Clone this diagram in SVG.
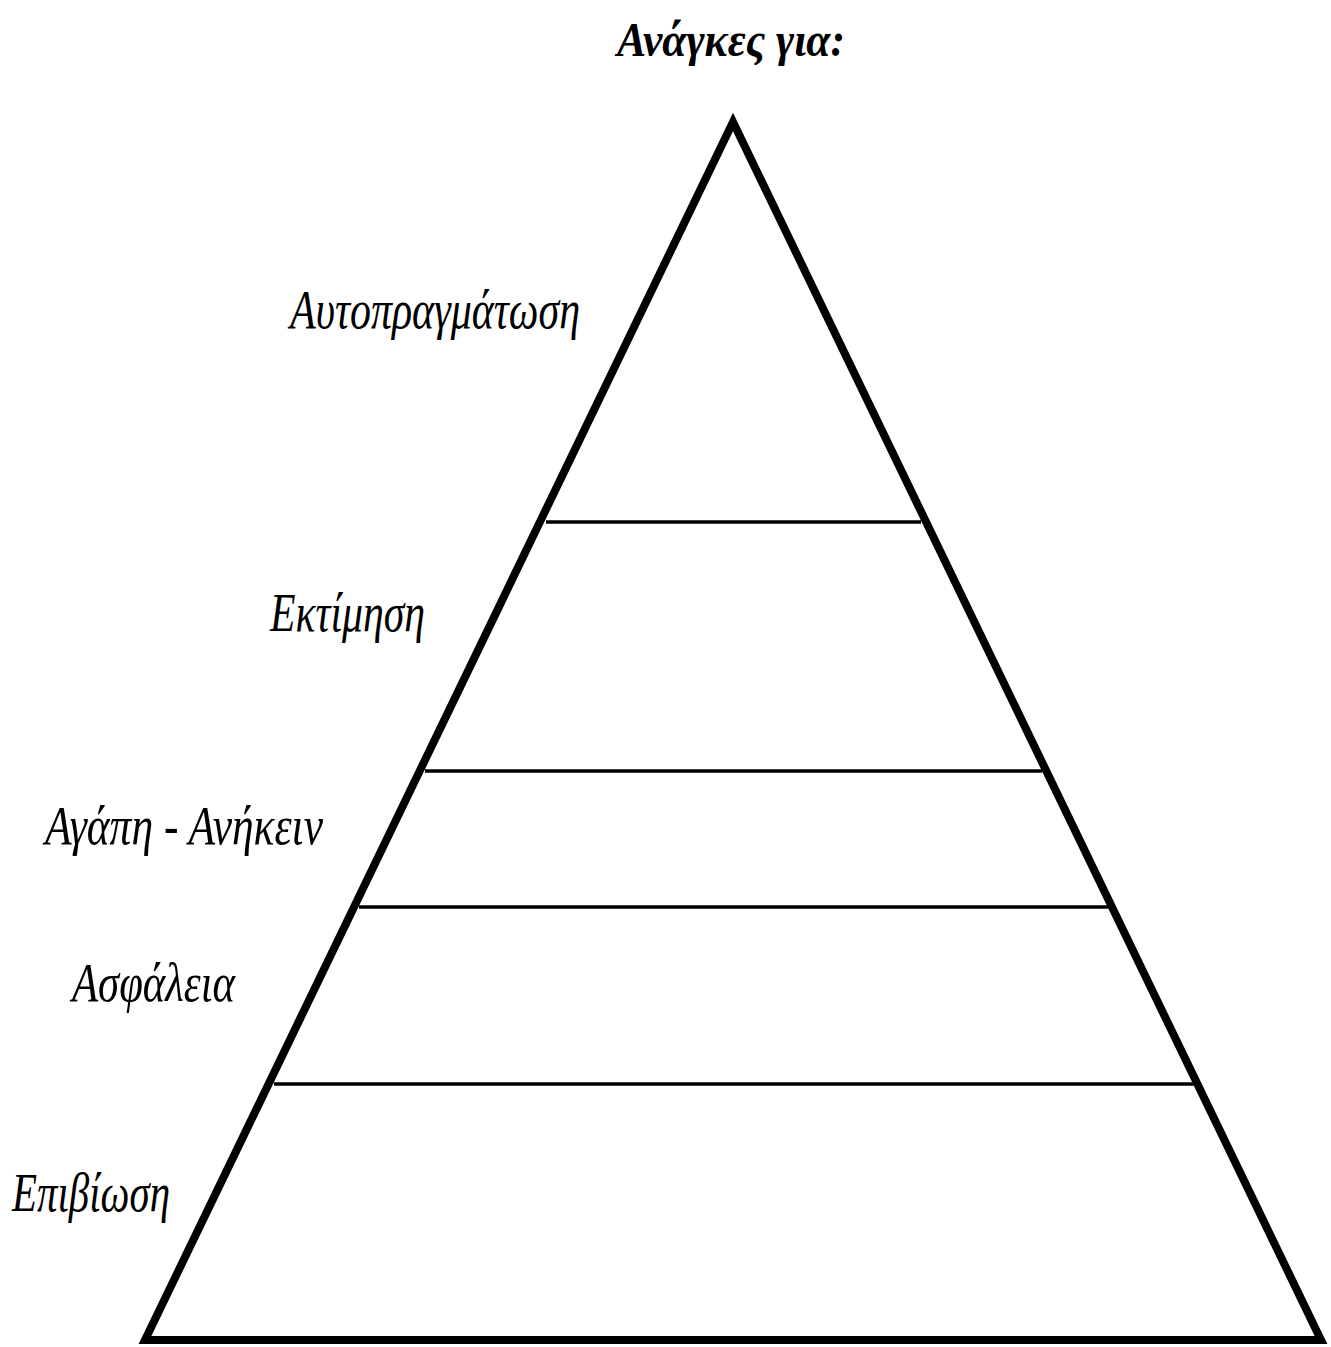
<svg xmlns="http://www.w3.org/2000/svg" width="1331" height="1347" viewBox="0 0 1331 1347">
<style>
.lbl{font-family:"Liberation Serif","DejaVu Serif",serif;font-style:italic;font-size:54px;fill:#000}
.title{font-weight:bold;font-size:48px}
.tier{stroke:#000;stroke-width:3.5}
</style>
<rect width="1331" height="1347" fill="#fff"/>
<g id="title"><text class="lbl title" x="617" y="56" textLength="228" lengthAdjust="spacingAndGlyphs">Ανάγκες για:</text></g>
<g id="pyramid">
<polygon points="733,122 145,1340 1321,1340" fill="none" stroke="#000" stroke-width="8" stroke-linejoin="miter"/>
</g>
<g id="connectors">
<line class="tier" x1="546" y1="522" x2="921" y2="522"/>
<line class="tier" x1="425" y1="771" x2="1042" y2="771"/>
<line class="tier" x1="359" y1="907" x2="1108" y2="907"/>
<line class="tier" x1="274" y1="1084" x2="1194" y2="1084"/>
</g>
<g id="n1"><text class="lbl" x="290" y="328" textLength="290" lengthAdjust="spacingAndGlyphs">Αυτοπραγμάτωση</text></g>
<g id="n2"><text class="lbl" x="270" y="631" textLength="155" lengthAdjust="spacingAndGlyphs">Εκτίμηση</text></g>
<g id="n3"><text class="lbl" x="45" y="844" textLength="278" lengthAdjust="spacingAndGlyphs">Αγάπη - Ανήκειν</text></g>
<g id="n4"><text class="lbl" x="72" y="1001" textLength="163" lengthAdjust="spacingAndGlyphs">Ασφάλεια</text></g>
<g id="n5"><text class="lbl" x="12" y="1211" textLength="158" lengthAdjust="spacingAndGlyphs">Επιβίωση</text></g>
</svg>
